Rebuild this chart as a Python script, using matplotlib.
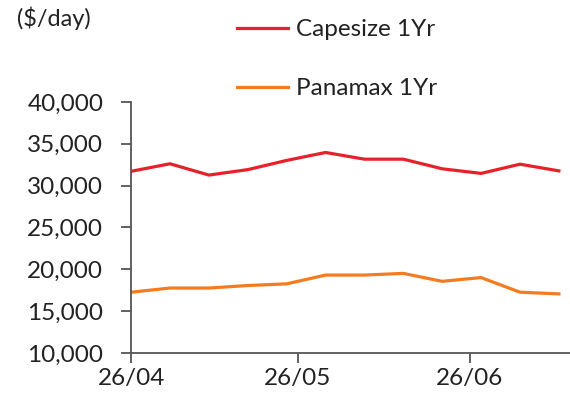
import matplotlib
matplotlib.use("Agg")
import matplotlib.pyplot as plt
import matplotlib.dates as mdates
import matplotlib.ticker as mticker
import pandas as pd

# weekly assessments, 1-year time charter rates ($/day)
dates = pd.date_range("2024-04-26", periods=12, freq="7D")
capesize_1yr = [31700, 32600, 31250, 31900, 33000, 33950, 33150, 33150, 32000, 31450, 32550, 31750]
panamax_1yr = [17250, 17750, 17750, 18050, 18250, 19300, 19300, 19500, 18550, 19000, 17250, 17050]
xticks = pd.to_datetime(["2024-04-26", "2024-05-26", "2024-06-26"])

plt.rcParams["font.family"] = ["Lato", "DejaVu Sans"]

fig = plt.figure(figsize=(5.7, 4.01), dpi=100)
ax = fig.add_axes([0.23, 0.12, 0.77, 0.626])

ax.plot(dates, capesize_1yr, color="#E8202A", lw=2.3, label="Capesize 1Yr")
ax.plot(dates, panamax_1yr, color="#F47B20", lw=2.3, label="Panamax 1Yr")

ax.set_ylim(10000, 40000)
ax.yaxis.set_major_locator(mticker.MultipleLocator(5000))
ax.yaxis.set_major_formatter(mticker.StrMethodFormatter("{x:,.0f}"))
ax.set_xlim(pd.Timestamp("2024-04-26"), pd.Timestamp("2024-07-14"))
ax.set_xticks(xticks)
ax.xaxis.set_major_formatter(mdates.DateFormatter("%d/%m"))

for s in ("top", "right"):
    ax.spines[s].set_visible(False)
for s in ("left", "bottom"):
    ax.spines[s].set_color("#555555")
    ax.spines[s].set_linewidth(1.3)
ax.tick_params(axis="both", colors="#555555", labelcolor="#222222", labelsize=17.5,
               width=1.3, length=7)
ax.tick_params(axis="y", pad=13)
ax.tick_params(axis="x", pad=4)

fig.text(0.03, 0.955, "($/day)", fontsize=17, color="#222222", va="center")
fig.legend(loc="upper left", bbox_to_anchor=(0.395, 0.982), frameon=False,
           fontsize=17.5, handlelength=2.1, handletextpad=0.3, labelspacing=1.55,
           borderpad=0, labelcolor="#222222")

fig.savefig("out.png", dpi=100)
